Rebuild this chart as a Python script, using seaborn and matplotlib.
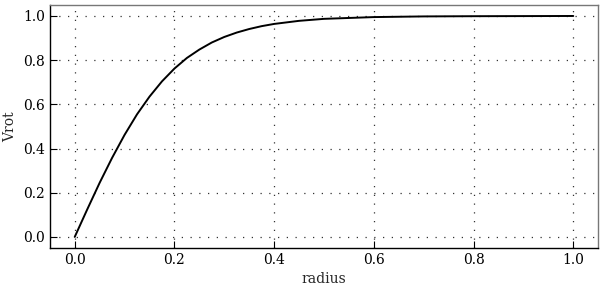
import numpy as np
import pandas as pd
import matplotlib
matplotlib.use("Agg")
import matplotlib.pyplot as plt
import seaborn as sns

# rotation curve
radius = [0.0, 0.025, 0.05, 0.075, 0.1, 0.125, 0.15, 0.175, 0.2, 0.225, 0.25,
          0.275, 0.3, 0.325, 0.35, 0.375, 0.4, 0.45, 0.5, 0.6, 0.7, 0.8, 1.0]
vrot = [0.0, 0.124, 0.245, 0.358, 0.462, 0.555, 0.635, 0.704, 0.762, 0.810, 0.848,
        0.880, 0.905, 0.925, 0.941, 0.954, 0.964, 0.978, 0.987, 0.995, 0.998, 0.999, 1.0]

xticks = [0.0, 0.2, 0.4, 0.6, 0.8, 1.0]
yticks = [0.0, 0.2, 0.4, 0.6, 0.8, 1.0]

df = pd.DataFrame({"radius": radius, "Vrot": vrot})

sns.set_style("white")
plt.rcParams['font.family'] = ['DejaVu Serif']

fig = plt.figure(figsize=(6, 2.9), dpi=100)
ax = fig.add_axes([0.083, 0.145, 0.914, 0.838])

sns.lineplot(data=df, x="radius", y="Vrot", color="black", linewidth=1.4, ax=ax)

ax.set_xlim(-0.05, 1.05)
ax.set_ylim(-0.05, 1.05)
ax.set_xticks(xticks)
ax.set_yticks(yticks)
ax.set_xticklabels([f"{t:.1f}" for t in xticks])
ax.set_yticklabels([f"{t:.1f}" for t in yticks])
ax.grid(True, linestyle=(0, (1, 6)), color="#333333", linewidth=0.9)
ax.tick_params(direction="in", length=5, width=0.8, labelsize=10, colors="black",
               bottom=True, left=True, top=False, right=False)
ax.set_xlabel("radius", fontsize=10)
ax.set_ylabel("Vrot", fontsize=10)

for side in ["left", "bottom"]:
    ax.spines[side].set_color("black")
    ax.spines[side].set_linewidth(1.0)
for side in ["top", "right"]:
    ax.spines[side].set_color("#777777")
    ax.spines[side].set_linewidth(1.0)

fig.savefig("out.png", dpi=100)
